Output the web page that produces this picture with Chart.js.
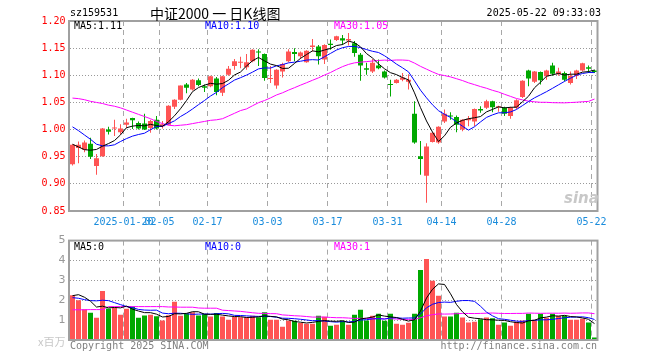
<!DOCTYPE html>
<html>
<head>
<meta charset="utf-8">
<script src="https://cdn.jsdelivr.net/npm/chart.js@4.4.1/dist/chart.umd.min.js"></script>
<style>
html, body { margin: 0; padding: 0; background: #fff; }
#wrap { position: relative; width: 660px; height: 360px; overflow: hidden; }
canvas { position: absolute; left: 0; }
#kc { top: 0; }
#vc { top: 230px; }
.t { position: absolute; white-space: pre; font: 10px "DejaVu Sans Mono", monospace; line-height: 12px; }
</style>
</head>
<body>
<div id="wrap">
  <canvas id="kc" width="660" height="230"></canvas>
  <canvas id="vc" width="660" height="130"></canvas>

  <div class="t" style="left:70px;top:7px">sz159531</div>
  <div class="t" style="left:150px;top:4px;font:14px 'Noto Sans CJK SC',sans-serif;line-height:18px">中证2000 一 日K线图</div>
  <div class="t" style="right:59px;top:7px">2025-05-22 09:33:03</div>

  <div class="t" style="left:74px;top:20px;color:#000">MA5:1.11</div>
  <div class="t" style="left:205px;top:20px;color:#0000ff">MA10:1.10</div>
  <div class="t" style="left:334px;top:20px;color:#ff00ff">MA30:1.05</div>

  <div class="t" style="left:564px;top:190px;font:italic bold 15px 'DejaVu Sans',sans-serif;color:#c8c8c8;line-height:17px">sina</div>

  <div class="t" style="left:74px;top:241px;color:#000">MA5:0</div>
  <div class="t" style="left:205px;top:241px;color:#0000ff">MA10:0</div>
  <div class="t" style="left:334px;top:241px;color:#ff00ff">MA30:1</div>

  <div class="t" style="left:38px;top:335px;font:11px 'Noto Sans CJK SC',sans-serif;color:#c8c8c8;line-height:13px">x百万</div>
  <div class="t" style="left:70px;top:340px;color:#808080">Copyright 2025 SINA.COM</div>
  <div class="t" style="right:63px;top:340px;color:#808080">http://finance.sina.com.cn</div>
</div>
<script>
// trading days shown, 2025-01-07 .. 2025-05-22
const dates = [
  '01-07','01-08','01-09','01-10','01-13','01-14','01-15','01-16','01-17','01-20',
  '01-21','01-22','01-23','01-24','01-27',
  '02-05','02-06','02-07','02-10','02-11','02-12','02-13','02-14','02-17','02-18',
  '02-19','02-20','02-21','02-24','02-25','02-26','02-27','02-28',
  '03-03','03-04','03-05','03-06','03-07','03-10','03-11','03-12','03-13','03-14',
  '03-17','03-18','03-19','03-20','03-21','03-24','03-25','03-26','03-27','03-28','03-31',
  '04-01','04-02','04-03','04-07','04-08','04-09','04-10','04-11','04-14','04-15',
  '04-16','04-17','04-18','04-21','04-22','04-23','04-24','04-25','04-28','04-29','04-30',
  '05-06','05-07','05-08','05-09','05-12','05-13','05-14','05-15','05-16','05-19',
  '05-20','05-21','05-22'
];

const openP = [
  0.936,0.966,0.963,0.974,0.933,0.951,1.000,1.002,0.995,1.009,
  1.0215,1.012,1.011,1.003,1.018,1.006,1.009,1.042,1.055,1.083,
  1.074,1.091,1.080,1.080,1.094,1.068,1.101,1.117,1.123,1.115,
  1.126,1.144,1.139,1.093,1.081,1.107,1.126,1.143,1.135,1.124,
  1.152,1.153,1.129,1.158,1.165,1.168,1.164,1.159,1.138,1.113,
  1.107,1.118,1.107,1.084,1.086,1.092,1.088,1.029,0.951,0.915,
  0.977,0.976,1.015,1.026,1.023,1.000,1.017,1.015,1.038,1.040,
  1.052,1.041,1.040,1.025,1.040,1.060,1.109,1.088,1.106,1.098,
  1.118,1.102,1.104,1.086,1.099,1.109,1.115,1.109
];
const highP = [
  0.973,0.978,0.980,0.985,0.955,1.003,1.005,1.018,1.010,1.020,
  1.022,1.015,1.029,1.018,1.025,1.016,1.045,1.056,1.081,1.086,
  1.093,1.094,1.083,1.099,1.097,1.099,1.117,1.130,1.134,1.139,
  1.148,1.148,1.140,1.117,1.111,1.123,1.148,1.150,1.144,1.146,
  1.167,1.156,1.157,1.166,1.173,1.174,1.178,1.163,1.141,1.123,
  1.130,1.129,1.109,1.092,1.093,1.104,1.102,1.052,0.979,0.975,
  0.995,1.006,1.037,1.032,1.026,1.019,1.025,1.039,1.043,1.055,
  1.053,1.044,1.042,1.042,1.056,1.091,1.110,1.108,1.107,1.110,
  1.123,1.114,1.107,1.107,1.110,1.123,1.118,1.110
];
const lowP = [
  0.934,0.938,0.958,0.946,0.917,0.950,0.991,0.988,0.991,1.003,
  1.001,1.000,0.999,0.994,1.000,1.002,1.008,1.038,1.054,1.067,
  1.072,1.080,1.069,1.078,1.063,1.062,1.099,1.110,1.113,1.110,
  1.124,1.117,1.090,1.086,1.075,1.096,1.124,1.126,1.130,1.123,
  1.144,1.120,1.121,1.147,1.163,1.156,1.155,1.134,1.090,1.101,
  1.104,1.111,1.094,1.061,1.085,1.089,1.074,0.974,0.917,0.865,
  0.976,0.974,1.012,1.018,0.995,0.997,1.006,1.006,1.031,1.038,
  1.032,1.033,1.025,1.020,1.038,1.058,1.080,1.086,1.083,1.092,
  1.099,1.099,1.089,1.083,1.093,1.107,1.104,1.104
];
const closeP = [
  0.972,0.972,0.976,0.950,0.947,1.002,0.996,1.004,1.002,1.013,
  1.017,1.002,1.000,1.016,1.002,1.010,1.044,1.055,1.081,1.077,
  1.092,1.082,1.077,1.098,1.069,1.098,1.112,1.126,1.125,1.124,
  1.147,1.142,1.095,1.095,1.110,1.121,1.144,1.139,1.142,1.145,
  1.155,1.135,1.156,1.156,1.172,1.164,1.167,1.141,1.118,1.110,
  1.123,1.113,1.096,1.082,1.092,1.096,1.092,0.976,0.946,0.969,
  0.994,1.005,1.029,1.024,1.009,1.018,1.020,1.038,1.035,1.052,
  1.041,1.043,1.029,1.040,1.054,1.090,1.094,1.107,1.091,1.109,
  1.103,1.107,1.092,1.099,1.109,1.122,1.112,1.106
];
// volume, millions
const volume = [
  2.25,2.00,1.55,1.37,1.12,2.47,1.58,1.64,1.27,1.57,
  1.69,1.12,1.23,1.27,1.19,0.98,1.25,1.92,1.22,1.33,
  1.40,1.23,1.31,1.18,1.36,1.18,1.02,1.16,1.15,1.15,
  1.22,1.15,1.40,1.02,1.02,0.67,0.97,0.97,0.85,0.82,
  0.82,1.22,1.17,0.72,0.77,0.97,0.77,1.27,1.52,0.98,
  1.22,1.32,0.97,1.32,0.82,0.77,0.87,1.32,3.52,4.07,
  2.98,2.22,1.18,1.18,1.37,1.13,0.88,0.92,1.05,1.13,
  1.10,0.77,0.88,0.72,0.92,0.98,1.32,1.02,1.32,1.12,
  1.32,1.22,1.22,1.02,1.02,1.07,0.88,0.13
];

// moving-average values at the left edge (window reaches before the first shown day)
const ma5Head = [0.973, 0.968, 0.963, 0.962];
const ma10Head = [1.005, 0.998, 0.990, 0.982, 0.973, 0.970, 0.970, 0.972, 0.978];
const ma30Head = [
  1.058,1.057,1.055,1.052,1.050,1.048,1.045,1.043,1.040,1.036,
  1.032,1.028,1.024,1.020,1.015,1.011,1.008,1.007,1.008,1.009,
  1.011,1.013,1.015,1.017,1.018,1.020,1.025,1.030,1.035
];
const volMa5Head = [2.23, 2.28, 2.15, 1.95];
const volMa10Head = [2.13, 2.10, 2.03, 1.98, 1.97, 2.00, 1.98, 1.88, 1.78];
const volMa30Head = [
  1.52,1.52,1.52,1.53,1.53,1.53,1.68,1.68,1.68,1.68,
  1.68,1.68,1.68,1.68,1.68,1.68,1.66,1.66,1.65,1.65,
  1.65,1.61,1.60,1.60,1.60,1.50,1.48,1.46,1.44
];

const xTickLabels = ['2025-01-20','02-05','02-17','03-03','03-17','03-31','04-14','04-28','05-22'];
const priceTicks = [0.85, 0.90, 0.95, 1.00, 1.05, 1.10, 1.15, 1.20];
const volTicks = [1, 2, 3, 4, 5];

const UP = '#ff5454', DOWN = '#00a800';
const MONO = 'DejaVu Sans Mono';

function movingAvg(vals, n, head) {
  return vals.map((v, i) => {
    if (i < n - 1) return head[i];
    let s = 0;
    for (let k = i - n + 1; k <= i; k++) s += vals[k];
    return s / n;
  });
}

const tickIdx = xTickLabels.map(l => dates.indexOf(l.slice(-5)));
const up = closeP.map((c, i) => c >= openP[i]);
const candleColor = up.map(u => u ? UP : DOWN);
const at = arr => arr.map((v, i) => ({x: i + 0.5, y: v}));

function xAxis(showLabels, h) {
  return {
    type: 'linear', min: 0, max: dates.length, offset: false,
    afterBuildTicks: s => { s.ticks = tickIdx.map(v => ({value: v})); },
    afterFit: s => { s.height = h; },
    grid: {offset: false, color: '#a8a8a8', drawTicks: false, lineWidth: 1},
    border: {display: false, dash: [5, 4]},
    ticks: {
      display: showLabels, autoSkip: false, maxRotation: 0, padding: 5,
      color: '#1a8cdc', font: {family: MONO, size: 10},
      callback: (v, i) => xTickLabels[i]
    }
  };
}

function lineDs(values, color) {
  return {type: 'line', data: at(values), borderColor: color, borderWidth: 1,
    pointRadius: 0, tension: 0, fill: false};
}

const frame = {
  id: 'frame',
  afterDraw(c) {
    const {ctx, chartArea: a} = c;
    ctx.save();
    ctx.strokeStyle = '#a0a0a0';
    ctx.lineWidth = 2;
    ctx.strokeRect(a.left - 0.5, a.top, a.right - a.left + 0.5, a.bottom - a.top);
    ctx.restore();
  }
};

const common = {
  responsive: false, animation: false, events: [],
  plugins: {legend: {display: false}, tooltip: {enabled: false}}
};

new Chart(document.getElementById('kc'), {
  type: 'line',
  data: {
    datasets: [
      lineDs(movingAvg(closeP, 5, ma5Head), '#000000'),
      lineDs(movingAvg(closeP, 10, ma10Head), '#0000ff'),
      lineDs(movingAvg(closeP, 30, ma30Head), '#ff00ff'),
      {type: 'bar', data: openP.map((o, i) => ({x: i + 0.5, y: [o, closeP[i]]})),
        backgroundColor: candleColor, barThickness: 5, grouped: false,
        minBarLength: 1, inflateAmount: 0},
      {type: 'bar', data: lowP.map((l, i) => ({x: i + 0.5, y: [l, highP[i]]})),
        backgroundColor: candleColor, barThickness: 1, grouped: false,
        minBarLength: 1, inflateAmount: 0}
    ]
  },
  options: Object.assign({}, common, {
    layout: {padding: {top: 21, right: 62.5, bottom: 0, left: 0}},
    scales: {
      x: xAxis(true, 19),
      y: {
        type: 'linear', min: 0.85, max: 1.2, beginAtZero: false,
        afterBuildTicks: s => { s.ticks = priceTicks.map(v => ({value: v})); },
        afterFit: s => { s.width = 69.5; },
        grid: {color: '#999', drawTicks: false},
        border: {display: false, dash: [1, 2]},
        ticks: {color: '#ff0000', padding: 4, font: {family: MONO, size: 10},
          callback: v => v.toFixed(2)}
      }
    }
  }),
  plugins: [frame]
});

new Chart(document.getElementById('vc'), {
  type: 'line',
  data: {
    datasets: [
      lineDs(movingAvg(volume, 5, volMa5Head), '#000000'),
      lineDs(movingAvg(volume, 10, volMa10Head), '#0000ff'),
      lineDs(movingAvg(volume, 30, volMa30Head), '#ff00ff'),
      {type: 'bar', data: at(volume), backgroundColor: candleColor,
        barThickness: 5, grouped: false, inflateAmount: 0}
    ]
  },
  options: Object.assign({}, common, {
    layout: {padding: {top: 10, right: 62.5, bottom: 0, left: 0}},
    scales: {
      x: xAxis(false, 20),
      y: {
        type: 'linear', min: 0, max: 5, beginAtZero: true,
        afterBuildTicks: s => { s.ticks = volTicks.map(v => ({value: v})); },
        afterFit: s => { s.width = 69.5; },
        grid: {color: '#999', drawTicks: false},
        border: {display: false, dash: [1, 2]},
        ticks: {color: '#999', padding: 4, font: {family: 'DejaVu Sans', size: 11}}
      }
    }
  }),
  plugins: [frame]
});
</script>
</body>
</html>
